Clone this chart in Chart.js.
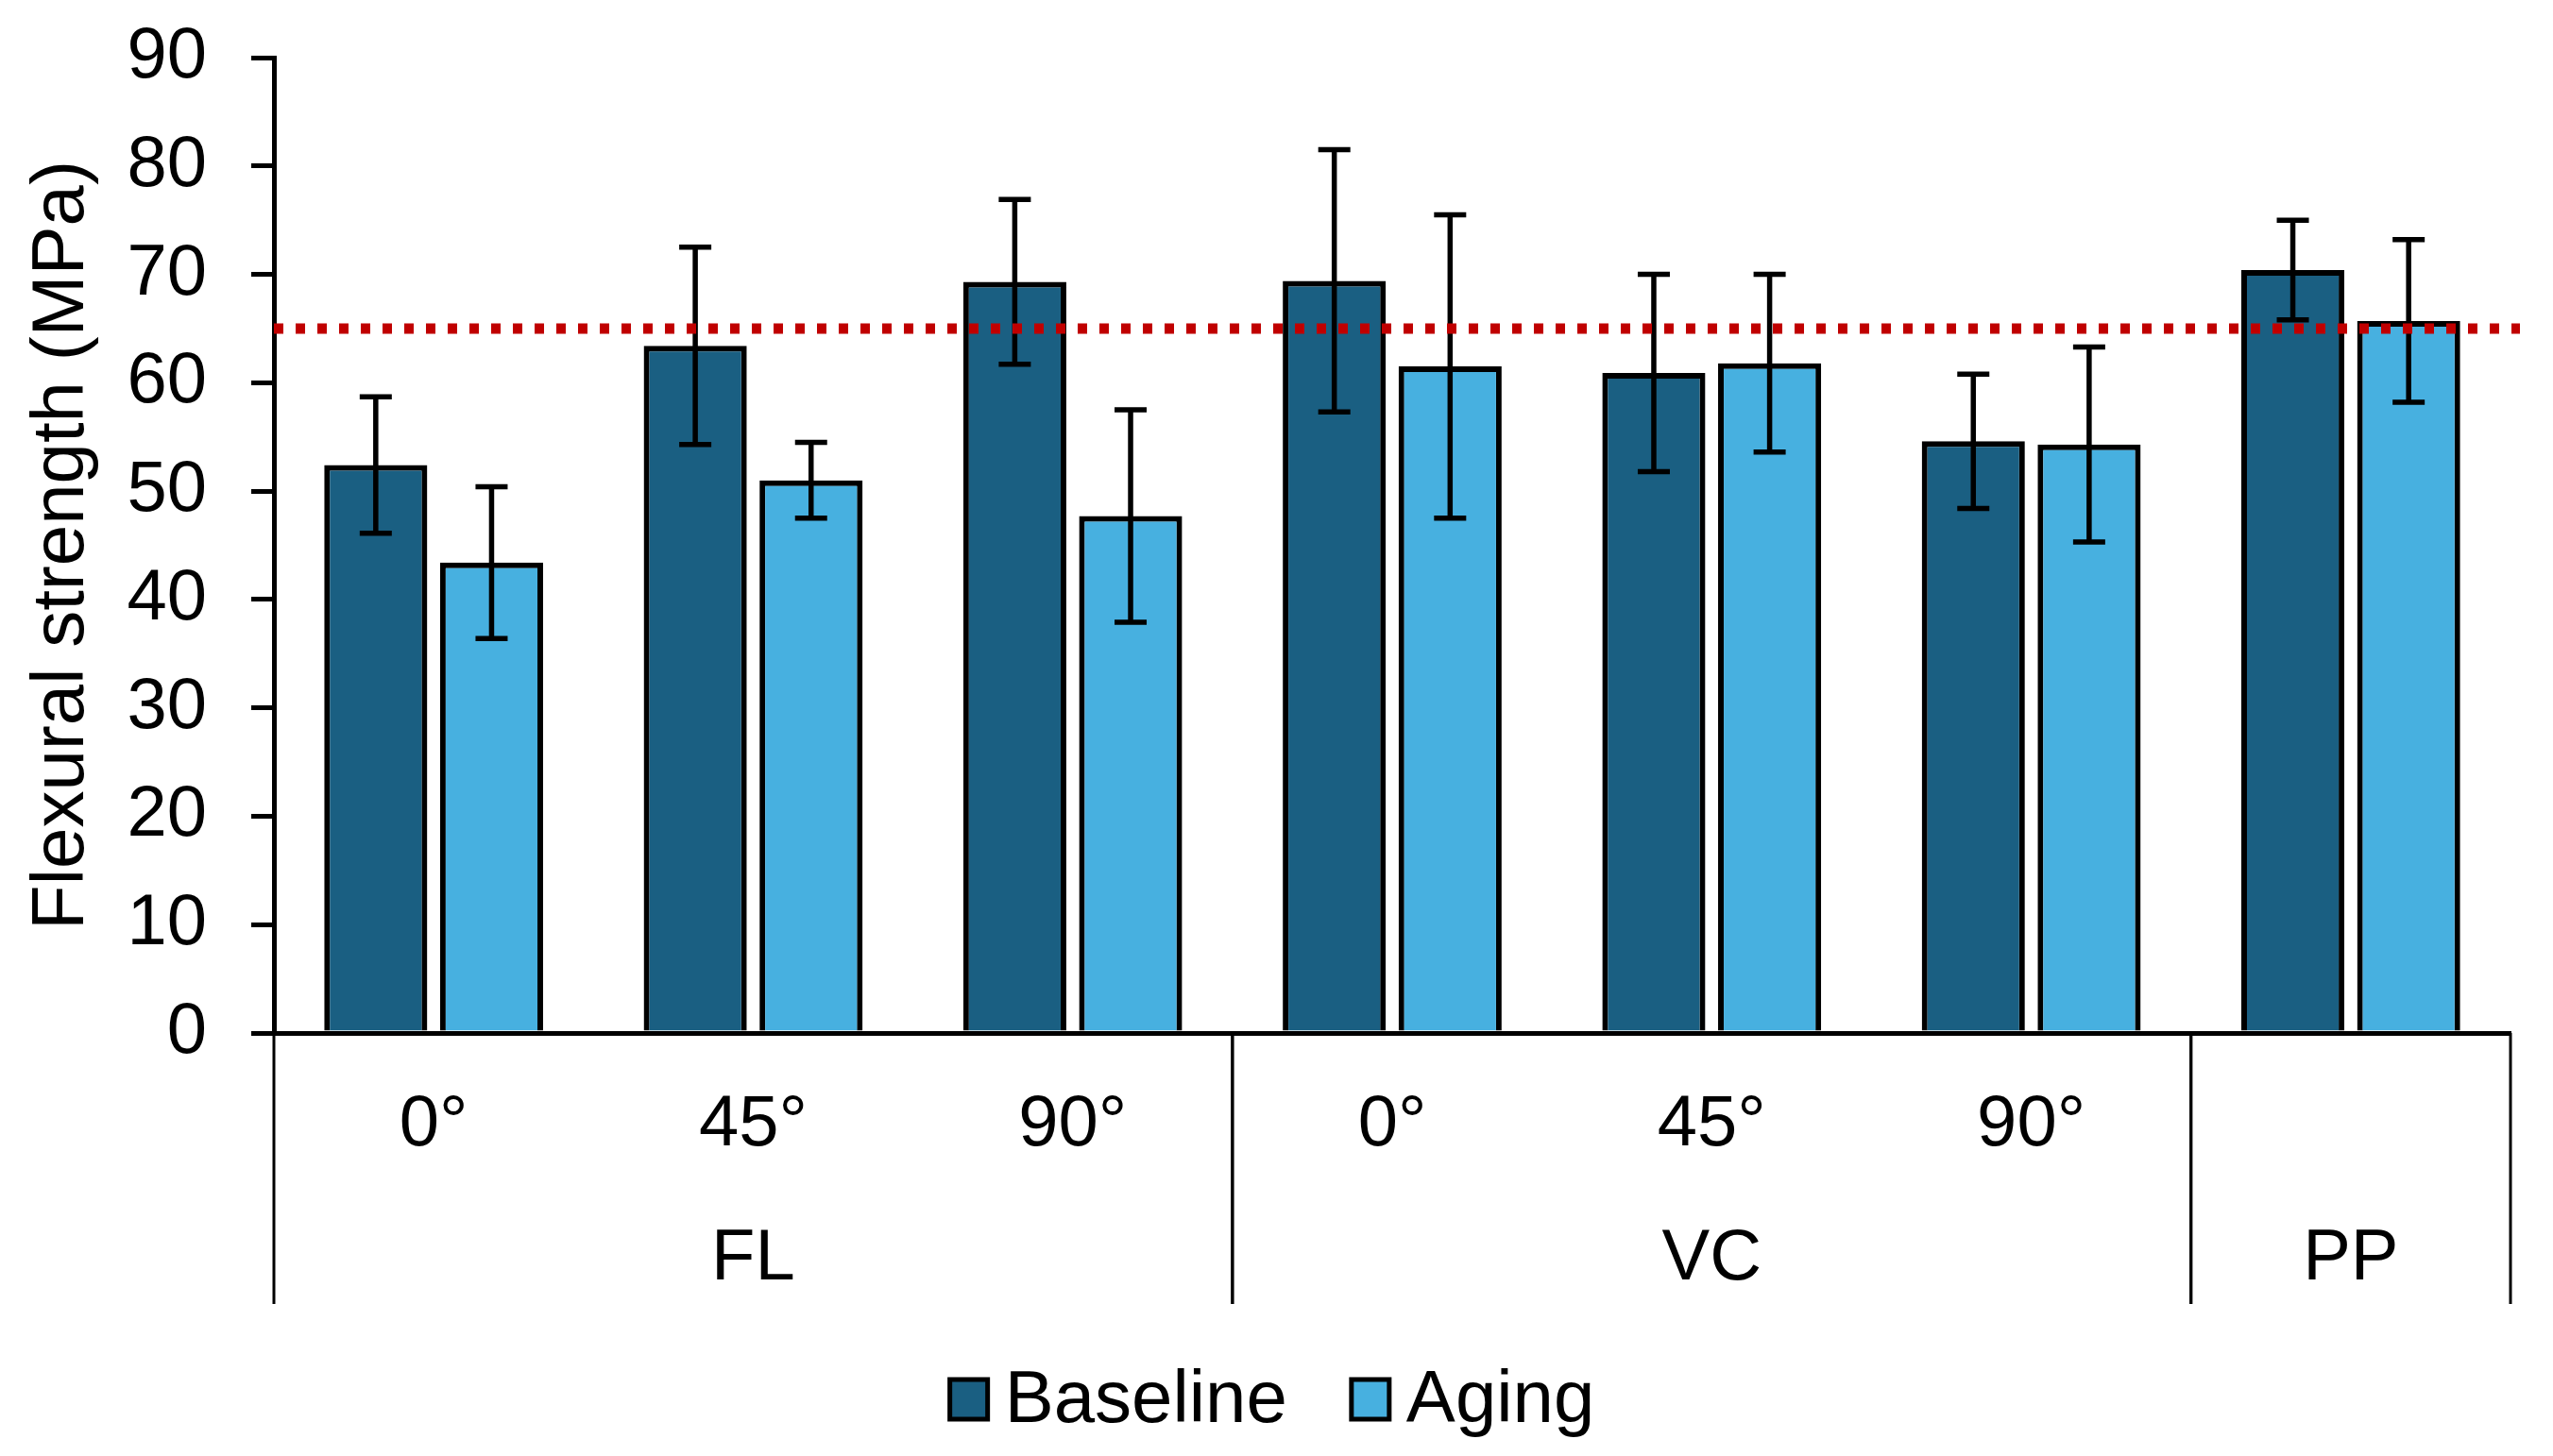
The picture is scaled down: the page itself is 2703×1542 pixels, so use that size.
<!DOCTYPE html>
<html>
<head>
<meta charset="utf-8">
<script src="https://cdn.jsdelivr.net/npm/chart.js@4.4.0/dist/chart.umd.min.js"></script>
<style>
  html, body { margin: 0; padding: 0; background: #fff; }
  #wrap { width: 2703px; height: 1542px; }
</style>
</head>
<body>
<div id="wrap"><canvas id="myChart" width="2703" height="1542"></canvas></div>
<script>
// categories and groups
const angulos = ["0°", "45°", "90°", "0°", "45°", "90°", ""];
const grupos = ["FL", "VC", "PP"];
const grupoInicio = [0, 3, 6];
const grupoFin = [2, 5, 6];

// series values (MPa)
const baseline = [52.4, 63.4, 69.3, 69.4, 60.9, 54.6, 70.4];
const baselineErr = [6.3, 9.1, 7.6, 12.1, 9.1, 6.2, 4.6];
const aging = [43.4, 51.0, 47.7, 61.5, 61.8, 54.3, 65.7];
const agingErr = [7.0, 3.5, 9.8, 14.0, 8.2, 9.0, 7.5];
const referencia = 65;

const yTicks = [0, 10, 20, 30, 40, 50, 60, 70, 80, 90];

const fuente = "'Liberation Sans', Arial, sans-serif";
Chart.defaults.font.family = fuente;
Chart.defaults.color = "#000";

// error bars
const barrasError = {
  id: "barrasError",
  afterDatasetsDraw(chart) {
    const ctx = chart.ctx;
    const y = chart.scales.y;
    const errores = [baselineErr, agingErr];
    ctx.save();
    ctx.strokeStyle = "#000";
    ctx.lineWidth = 5.5;
    chart.data.datasets.forEach((ds, d) => {
      const meta = chart.getDatasetMeta(d);
      meta.data.forEach((bar, i) => {
        const v = ds.data[i];
        const e = errores[d][i];
        const yt = y.getPixelForValue(v + e);
        const yb = y.getPixelForValue(v - e);
        ctx.beginPath();
        ctx.moveTo(bar.x, yt);
        ctx.lineTo(bar.x, yb);
        ctx.moveTo(bar.x - 17, yt);
        ctx.lineTo(bar.x + 17, yt);
        ctx.moveTo(bar.x - 17, yb);
        ctx.lineTo(bar.x + 17, yb);
        ctx.stroke();
      });
    });
    ctx.restore();
  }
};

// red dotted reference line
const lineaRef = {
  id: "lineaRef",
  afterDatasetsDraw(chart) {
    const ctx = chart.ctx;
    const a = chart.chartArea;
    const yy = chart.scales.y.getPixelForValue(referencia);
    ctx.save();
    ctx.strokeStyle = "#C00000";
    ctx.lineWidth = 11;
    ctx.setLineDash([10, 13]);
    ctx.beginPath();
    ctx.moveTo(a.left, yy);
    ctx.lineTo(a.right + 10, yy);
    ctx.stroke();
    ctx.restore();
  }
};

// group labels, separators and legend
const gruposEje = {
  id: "gruposEje",
  afterDraw(chart) {
    const ctx = chart.ctx;
    const x = chart.scales.x;
    const a = chart.chartArea;
    const paso = x.getPixelForValue(1) - x.getPixelForValue(0);
    ctx.save();
    ctx.strokeStyle = "#000";
    ctx.lineWidth = 3;
    ctx.fillStyle = "#000";
    ctx.font = "76px " + fuente;
    ctx.textAlign = "center";
    ctx.textBaseline = "middle";
    const bordes = [];
    grupos.forEach((g, k) => {
      const izq = x.getPixelForValue(grupoInicio[k]) - paso / 2;
      const der = x.getPixelForValue(grupoFin[k]) + paso / 2;
      bordes.push(izq, der);
      ctx.fillText(g, (izq + der) / 2, a.bottom + 240);
    });
    bordes.forEach((bx) => {
      ctx.beginPath();
      ctx.moveTo(bx, a.bottom);
      ctx.lineTo(bx, a.bottom + 287);
      ctx.stroke();
    });

    // legend
    ctx.font = "78px " + fuente;
    ctx.textAlign = "left";
    const caja = 40, sep = 18, entre = 68;
    const items = chart.data.datasets.map((ds) => ({ t: ds.label, c: ds.backgroundColor, w: ctx.measureText(ds.label).width }));
    let total = 0;
    items.forEach((it, k) => { total += caja + sep + it.w + (k ? entre : 0); });
    let lx = 1347 - total / 2;
    const ly = 1482;
    items.forEach((it) => {
      ctx.fillStyle = it.c;
      ctx.fillRect(lx, ly - 21, caja, 42);
      ctx.lineWidth = 5;
      ctx.strokeRect(lx, ly - 21, caja, 42);
      ctx.fillStyle = "#000";
      ctx.fillText(it.t, lx + caja + sep, ly + 2);
      lx += caja + sep + it.w + entre;
    });
    ctx.restore();
  }
};

const sinPadding = (scale) => {
  scale.paddingTop = 0;
  scale.paddingBottom = 0;
  scale.paddingLeft = 0;
  scale.paddingRight = 0;
};

const data = {
  labels: angulos,
  datasets: [
    {
      label: "Baseline",
      data: baseline,
      backgroundColor: "#1A5F82",
      borderColor: "#000",
      borderWidth: 6,
      borderSkipped: "bottom"
    },
    {
      label: "Aging",
      data: aging,
      backgroundColor: "#47B0E0",
      borderColor: "#000",
      borderWidth: 6,
      borderSkipped: "bottom"
    }
  ]
};

const config = {
  type: "bar",
  data,
  plugins: [barrasError, lineaRef, gruposEje],
  options: {
    responsive: false,
    animation: false,
    devicePixelRatio: 1,
    categoryPercentage: 0.725,
    barPercentage: 0.89,
    layout: { padding: { top: 61, right: 45, bottom: 119, left: 0 } },
    plugins: {
      tooltip: { enabled: false },
      legend: { display: false }
    },
    scales: {
      x: {
        grid: { display: false },
        border: { display: true, color: "#000", width: 5 },
        ticks: { font: { size: 76 }, color: "#000", padding: 44, maxRotation: 0 },
        afterFit(scale) { scale.height = 329; sinPadding(scale); }
      },
      y: {
        min: 0,
        max: 90,
        afterBuildTicks(scale) { scale.ticks = yTicks.map((v) => ({ value: v })); },
        grid: {
          display: true,
          drawOnChartArea: false,
          drawTicks: true,
          tickLength: 24,
          color: "#000",
          lineWidth: 5
        },
        border: { display: true, color: "#000", width: 5 },
        ticks: { font: { size: 76 }, color: "#000", padding: 47 },
        title: {
          display: true,
          text: "Flexural strength (MPa)",
          font: { size: 78 },
          color: "#000",
          padding: { top: 20, bottom: 0 }
        },
        afterFit(scale) { scale.width = 290; sinPadding(scale); }
      }
    }
  }
};

const myChart = new Chart(document.getElementById("myChart"), config);
</script>
</body>
</html>
